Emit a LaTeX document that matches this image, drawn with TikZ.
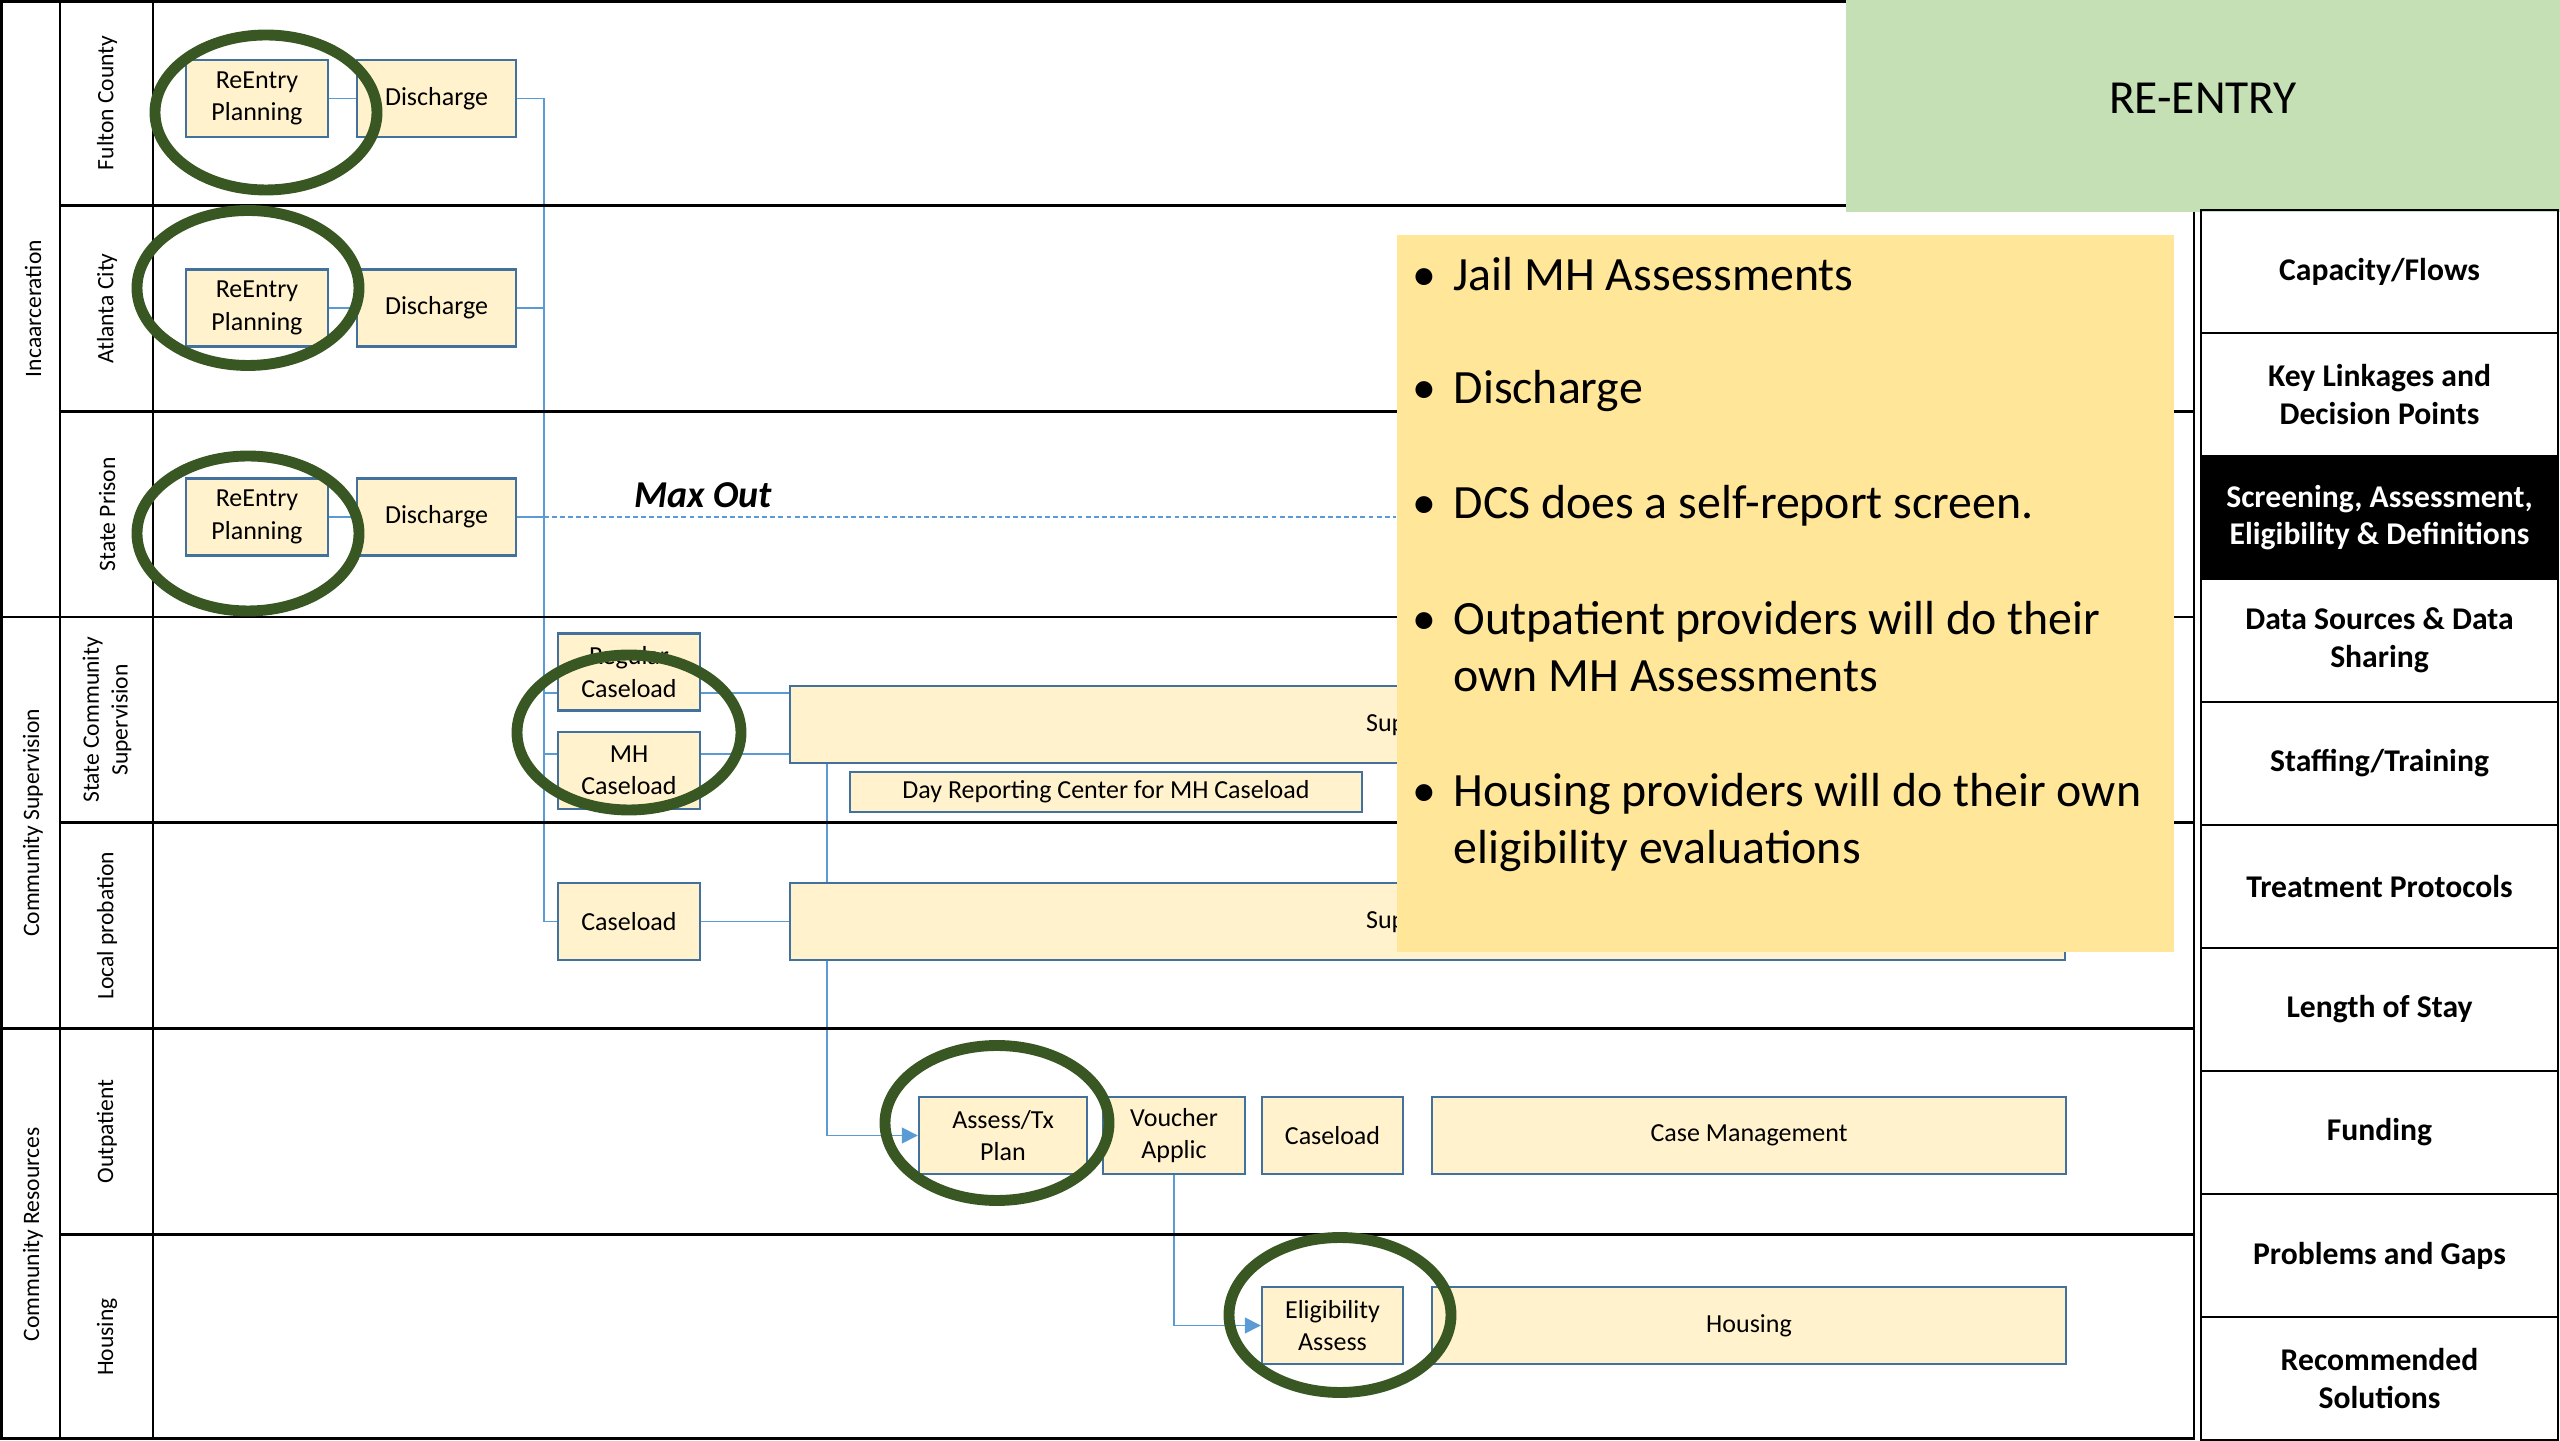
\documentclass[tikz,border=0pt]{standalone}
\usepackage{fontspec}
\setmainfont{Carlito}
\usepackage{tikz}
\usetikzlibrary{positioning, calc, arrows.meta}

\definecolor{boxfill}{HTML}{FFF2CC}
\definecolor{boxline}{HTML}{41719C}
\definecolor{flowblue}{HTML}{5B9BD5}
\definecolor{ringgreen}{HTML}{385723}
\definecolor{notegold}{HTML}{FFE699}
\definecolor{titlegreen}{HTML}{C5E0B4}

\pgfdeclarelayer{bg}
\pgfsetlayers{bg,main}

\tikzset{
  stepbox/.style={draw=boxline, line width=0.7pt, fill=boxfill, inner sep=0pt,
    minimum height=0.77cm, align=center, font=\fontsize{7.4}{9.2}\selectfont},
  lane/.style={line width=0.8pt},
  lanelabel/.style={rotate=90, align=center, font=\fontsize{6.7}{8.2}\selectfont},
  flow/.style={draw=flowblue, line width=0.45pt},
  flowarrow/.style={flow, -{Triangle[length=4.5pt,width=4.5pt]}},
  ring/.style={draw=ringgreen, line width=3.1pt},
  panelcell/.style={draw, line width=0.6pt, minimum width=3.57cm, minimum height=1.23cm,
    inner sep=0pt, align=center, font=\fontsize{9}{10.7}\selectfont\bfseries},
  noteitem/.style={anchor=base west, align=left, inner sep=0pt,
    font=\fontsize{13.6}{16.5}\selectfont},
}

\begin{document}
\begin{tikzpicture}
    \useasboundingbox (0,0) rectangle (25.6,14.4);

    % swim lanes
    \draw[lane] (0.015,0.015) rectangle (21.94,14.385);
    \draw[lane] (0.6,0) -- (0.6,14.4);
    \draw[lane] (1.53,0) -- (1.53,14.4);
    \draw[lane] (0.6,12.343) -- (21.94,12.343);
    \draw[lane] (0.6,10.286) -- (21.94,10.286);
    \draw[lane] (0,8.229) -- (21.94,8.229);
    \draw[lane] (0.6,6.171) -- (21.94,6.171);
    \draw[lane] (0,4.114) -- (21.94,4.114);
    \draw[lane] (0.6,2.057) -- (21.94,2.057);

    \node[lanelabel] (grpInc) at (0.33,11.314) {Incaarceration};
    \node[lanelabel] (grpSup) at (0.33,6.171) {Community Supervision};
    \node[lanelabel] (grpRes) at (0.33,2.057) {Community Resources};

    \node[lanelabel] (laneFul) at (1.07,13.371) {Fulton County};
    \node[lanelabel] (laneAtl) at (1.07,11.314) {Atlanta City};
    \node[lanelabel] (laneSP) at (1.07,9.257) {State Prison};
    \node[lanelabel] (laneSCS) at (1.07,7.2) {State Community\\Supervision};
    \node[lanelabel] (laneLP) at (1.07,5.143) {Local probation};
    \node[lanelabel] (laneOP) at (1.07,3.086) {Outpatient};
    \node[lanelabel] (laneHou) at (1.07,1.029) {Housing};

    % incarceration steps
    \node[stepbox, minimum width=1.42cm] (fulRP) at (2.57,13.415) {ReEntry\\Planning};
    \node[stepbox, minimum width=1.59cm] (fulDC) at (4.365,13.415) {Discharge};
    \node[stepbox, minimum width=1.42cm] (atlRP) at (2.57,11.32) {ReEntry\\Planning};
    \node[stepbox, minimum width=1.59cm] (atlDC) at (4.365,11.32) {Discharge};
    \node[stepbox, minimum width=1.42cm] (spRP) at (2.57,9.23) {ReEntry\\Planning};
    \node[stepbox, minimum width=1.59cm] (spDC) at (4.365,9.23) {Discharge};
    \node[font=\fontsize{10.8}{13}\selectfont\bfseries\itshape] (maxOut) at (7.03,9.45) {Max Out};

    % supervision steps
    \node[stepbox, minimum width=1.42cm] (regCL) at (6.29,7.68) {Regular\\Caseload};
    \node[stepbox, minimum width=1.42cm] (mhCL) at (6.29,6.695) {MH\\Caseload};
    \node[stepbox, minimum width=1.42cm] (lpCL) at (6.29,5.185) {Caseload};
    \node[stepbox, minimum width=12.75cm] (supState) at (14.275,7.155) {Supervision};
    \node[stepbox, minimum width=12.75cm] (supLocal) at (14.275,5.185) {Supervision};
    \node[stepbox, minimum width=5.12cm, minimum height=0.4cm] (dayRC) at (11.06,6.48) {Day Reporting Center for MH Caseload};

    % community resources steps
    \node[stepbox, minimum width=1.68cm] (assess) at (10.03,3.045) {Assess/Tx\\Plan};
    \node[stepbox, minimum width=1.42cm] (voucher) at (11.74,3.045) {Voucher\\Applic};
    \node[stepbox, minimum width=1.41cm] (opCL) at (13.325,3.045) {Caseload};
    \node[stepbox, minimum width=6.34cm] (caseMgmt) at (17.49,3.045) {Case Management};
    \node[stepbox, minimum width=1.41cm] (elig) at (13.325,1.145) {Eligibility\\Assess};
    \node[stepbox, minimum width=6.34cm] (housing) at (17.49,1.145) {Housing};

    % screening points
    \draw[ring] (2.66,13.275) ellipse (1.11 and 0.775);
    \draw[ring] (2.48,11.52) ellipse (1.11 and 0.775);
    \draw[ring] (2.48,9.065) ellipse (1.11 and 0.775);
    \draw[ring] (6.29,7.075) ellipse (1.12 and 0.775);
    \draw[ring] (9.97,3.17) ellipse (1.12 and 0.775);
    \draw[ring] (13.40,1.25) ellipse (1.11 and 0.775);

    % notes
    \node[fill=notegold, minimum width=7.77cm, minimum height=7.17cm, inner sep=0pt] (note) at (17.855,8.46) {};
    \node[noteitem] (itemJail) at (14.53,11.49) {\llap{\textbullet\hspace{1.7mm}}Jail MH Assessments};
    \node[noteitem] (itemDis) at (14.53,10.36) {\llap{\textbullet\hspace{1.7mm}}Discharge};
    \node[noteitem] (itemDCS) at (14.53,9.21) {\llap{\textbullet\hspace{1.7mm}}DCS does a self-report screen.};
    \node[noteitem] (itemOut) at (14.53,7.48) {\llap{\textbullet\hspace{1.7mm}}Outpatient providers will do their\\own MH Assessments};
    \node[noteitem] (itemHou) at (14.53,5.76) {\llap{\textbullet\hspace{1.7mm}}Housing providers will do their own\\eligibility evaluations};

    % title and topic list
    \node[fill=titlegreen, minimum width=7.14cm, minimum height=2.12cm, inner sep=0pt,
      font=\fontsize{13.5}{16}\selectfont] (title) at (22.03,13.34) {\raisebox{1.6mm}{RE-ENTRY}};
    \node[panelcell] (capFlows) at (23.795,11.685) {Capacity/Flows};
    \node[panelcell] (keyLinks) at (23.795,10.455) {Key Linkages and\\Decision Points};
    \node[panelcell, fill=black, text=white] (screening) at (23.795,9.225) {Screening, Assessment,\\Eligibility \& Definitions};
    \node[panelcell] (dataSrc) at (23.795,7.995) {Data Sources \& Data\\Sharing};
    \node[panelcell] (staffing) at (23.795,6.765) {Staffing/Training};
    \node[panelcell] (treatment) at (23.795,5.535) {Treatment Protocols};
    \node[panelcell] (stay) at (23.795,4.305) {Length of Stay};
    \node[panelcell] (funding) at (23.795,3.075) {Funding};
    \node[panelcell] (gaps) at (23.795,1.845) {Problems and Gaps};
    \node[panelcell] (solutions) at (23.795,0.615) {Recommended\\Solutions};

    % flows, kept under the boxes
    \begin{pgfonlayer}{bg}
        \coordinate (spine) at (5.44,0);
        \coordinate (regIn) at ([yshift=-2.1mm]regCL.west);
        \coordinate (regOut) at ([yshift=-2.1mm]regCL.east);
        \coordinate (mhIn) at ([yshift=1.65mm]mhCL.west);
        \coordinate (mhOut) at ([yshift=1.65mm]mhCL.east);
        \draw[flow] (fulRP) -- (fulDC);
        \draw[flow] (atlRP) -- (atlDC);
        \draw[flow] (spRP) -- (spDC);
        \draw[flow] (fulDC.east) -| (spine |- lpCL.west) -- (lpCL.west);
        \draw[flow] (atlDC.east) -- (atlDC.east -| spine);
        \draw[flow] (spDC.east) -- (spDC.east -| spine);
        \draw[flow, dash pattern=on 1.4pt off 0.9pt] (spDC.east -| spine) -- (spDC.east -| note.west);
        \draw[flow] (regIn) -- (regIn -| spine);
        \draw[flow] (mhIn) -- (mhIn -| spine);
        \draw[flow] (regOut) -- (regOut -| supState.west);
        \draw[flow] (mhOut) -- (mhOut -| supState.west);
        \draw[flow] (lpCL) -- (supLocal);
        \draw[flowarrow] ([xshift=3.8mm]supState.south west) |- (assess.west);
        \draw[flowarrow] (voucher.south) |- (elig.west);
    \end{pgfonlayer}
\end{tikzpicture}
\end{document}
